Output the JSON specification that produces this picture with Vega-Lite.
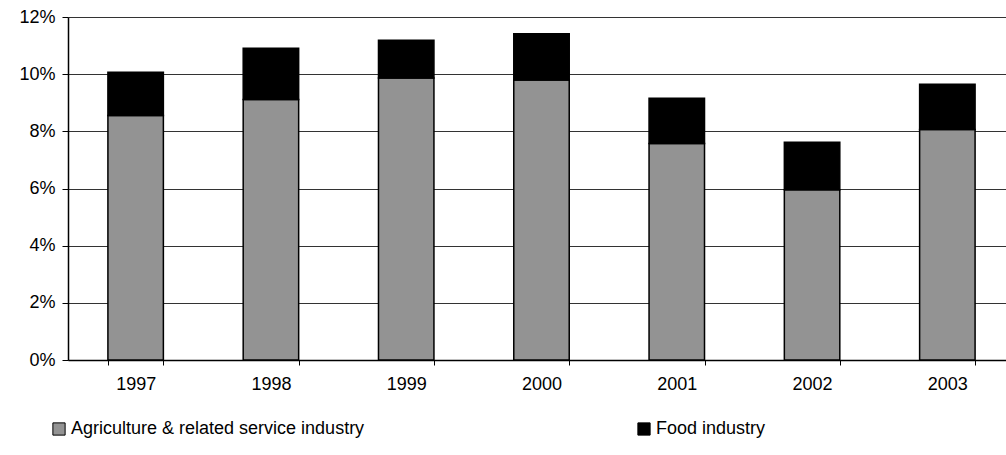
{
  "$schema": "https://vega.github.io/schema/vega-lite/v6.json",
  "autosize": "none",
  "width": 938,
  "height": 343,
  "padding": {"left": 68, "top": 17, "right": 0, "bottom": 95},
  "background": "white",
  "config": {
    "font": "Liberation Sans",
    "view": {"stroke": null}
  },
  "data": {
    "values": [
      {"year": "1997", "sector": "Agriculture & related service industry", "share": 0.0855},
      {"year": "1997", "sector": "Food industry", "share": 0.0152},
      {"year": "1998", "sector": "Agriculture & related service industry", "share": 0.0911},
      {"year": "1998", "sector": "Food industry", "share": 0.0180},
      {"year": "1999", "sector": "Agriculture & related service industry", "share": 0.0987},
      {"year": "1999", "sector": "Food industry", "share": 0.0132},
      {"year": "2000", "sector": "Agriculture & related service industry", "share": 0.0980},
      {"year": "2000", "sector": "Food industry", "share": 0.0161},
      {"year": "2001", "sector": "Agriculture & related service industry", "share": 0.0757},
      {"year": "2001", "sector": "Food industry", "share": 0.0159},
      {"year": "2002", "sector": "Agriculture & related service industry", "share": 0.0596},
      {"year": "2002", "sector": "Food industry", "share": 0.0166},
      {"year": "2003", "sector": "Agriculture & related service industry", "share": 0.0806},
      {"year": "2003", "sector": "Food industry", "share": 0.0159}
    ]
  },
  "mark": {"type": "bar", "stroke": "black", "strokeWidth": 1.5},
  "encoding": {
    "x": {
      "field": "year",
      "type": "nominal",
      "scale": {"range": [0, 947], "paddingInner": 0.59, "paddingOuter": 0.295},
      "axis": {
        "title": null,
        "labelAngle": 0,
        "labelFontSize": 18,
        "labelColor": "black",
        "labelPadding": 10,
        "tickBand": "extent",
        "tickSize": 5,
        "tickColor": "black",
        "domainColor": "black",
        "domainWidth": 1.5,
        "grid": false
      }
    },
    "y": {
      "field": "share",
      "type": "quantitative",
      "aggregate": "sum",
      "stack": "zero",
      "scale": {"domain": [0, 0.12], "nice": false},
      "axis": {
        "title": null,
        "values": [0, 0.02, 0.04, 0.06, 0.08, 0.1, 0.12],
        "format": ".0%",
        "labelFontSize": 18,
        "labelColor": "black",
        "labelPadding": 7,
        "tickSize": 6,
        "tickColor": "black",
        "domainColor": "black",
        "domainWidth": 1.5,
        "grid": true,
        "gridColor": "#333333",
        "gridWidth": 1
      }
    },
    "order": {"field": "sector", "sort": "ascending"},
    "color": {
      "field": "sector",
      "type": "nominal",
      "scale": {
        "domain": ["Agriculture & related service industry", "Food industry"],
        "range": ["#939393", "#000000"]
      },
      "legend": {
        "title": null,
        "orient": "none",
        "legendX": -18,
        "legendY": 403,
        "direction": "horizontal",
        "columns": 2,
        "columnPadding": 270,
        "symbolType": "square",
        "symbolSize": 150,
        "symbolStrokeColor": "black",
        "symbolStrokeWidth": 1,
        "symbolOpacity": 1,
        "labelFontSize": 18,
        "labelLimit": 500,
        "labelColor": "black",
        "labelOffset": 3
      }
    }
  }
}
